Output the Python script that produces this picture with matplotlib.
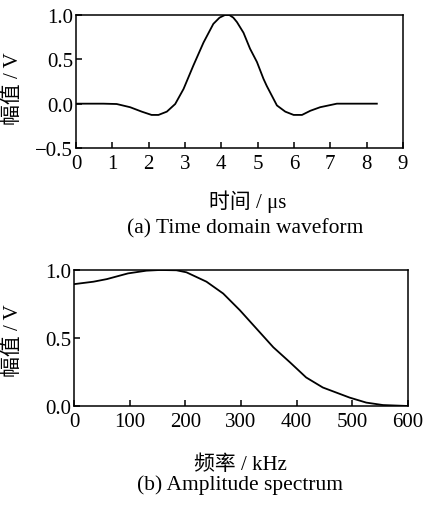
import numpy as np
import matplotlib
matplotlib.use('Agg')
import matplotlib.pyplot as plt

plt.rcParams['font.family'] = ['Liberation Serif', 'Noto Sans CJK SC']
plt.rcParams['font.size'] = 15
plt.rcParams['axes.unicode_minus'] = True

# (a) time domain waveform
t_us = [0, 0.75, 1.12, 1.49, 1.81, 2.08, 2.27, 2.5, 2.73, 2.96, 3.23, 3.51, 3.78,
        3.95, 4.1, 4.22, 4.33, 4.43, 4.61, 4.79, 4.98, 5.16, 5.25, 5.53, 5.76,
        5.99, 6.22, 6.45, 6.72, 7.18, 7.55, 8.28]
amp_t = [0, 0, -0.004, -0.04, -0.09, -0.127, -0.127, -0.09, -0.004, 0.166, 0.43,
         0.69, 0.9, 0.97, 1.0, 1.0, 0.97, 0.92, 0.8, 0.62, 0.47, 0.28, 0.2, -0.02,
         -0.09, -0.127, -0.127, -0.08, -0.04, 0, 0, 0]

# (b) amplitude spectrum
f_khz = [0, 35, 59, 97, 130, 154, 184, 202, 238, 268, 298, 328, 358, 388, 417,
         447, 495, 525, 555, 600]
amp_f = [0.896, 0.914, 0.933, 0.975, 0.995, 1.0, 0.998, 0.983, 0.914, 0.827,
         0.704, 0.568, 0.432, 0.321, 0.21, 0.136, 0.062, 0.025, 0.007, 0.0]

fig = plt.figure(figsize=(4.23, 5.06), dpi=100)

ax1 = fig.add_axes([76 / 423, 1 - 149 / 506, 327 / 423, 133 / 506])
ax1.plot(t_us, amp_t, color='black', lw=1.3)
ax1.set_xlim(0, 9)
ax1.set_ylim(-0.5, 1.0)
ax1.set_xticks(range(0, 10))
ax1.set_yticks([-0.5, 0.0, 0.5, 1.0])
ax1.set_yticklabels(['\u22120.5', '0.0', '0.5', '1.0'])
ax1.set_xlabel('时间 / μs', fontsize=15)
ax1.set_ylabel('幅值 / V', fontsize=15)
ax1.xaxis.set_label_coords(0.526, -0.308)
ax1.yaxis.set_label_coords(-0.162, 0.451)

ax2 = fig.add_axes([74 / 423, 1 - 407 / 506, 334 / 423, 136 / 506])
ax2.plot(f_khz, amp_f, color='black', lw=1.3)
ax2.set_xlim(0, 600)
ax2.set_ylim(0, 1.0)
ax2.set_xticks(range(0, 700, 100))
ax2.set_yticks([0.0, 0.5, 1.0])
ax2.set_yticklabels(['0.0', '0.5', '1.0'])
ax2.set_xlabel('频率 / kHz', fontsize=15)
ax2.set_ylabel('幅值 / V', fontsize=15)
ax2.xaxis.set_label_coords(0.497, -0.353)
ax2.yaxis.set_label_coords(-0.153, 0.485)

for ax in (ax1, ax2):
    ax.tick_params(direction='in', length=4, width=1.1, top=False, right=False)
    ax.tick_params(axis='x', pad=4)
    ax.tick_params(axis='y', pad=2)
    for sp in ax.spines.values():
        sp.set_linewidth(1.1)

fig.text(245 / 423, 1 - 229 / 506, '(a) Time domain waveform', ha='center', va='center', fontsize=15.5)
fig.text(240 / 423, 1 - 485 / 506, '(b) Amplitude spectrum', ha='center', va='center', fontsize=15.5)

fig.savefig('out.png', dpi=100)
